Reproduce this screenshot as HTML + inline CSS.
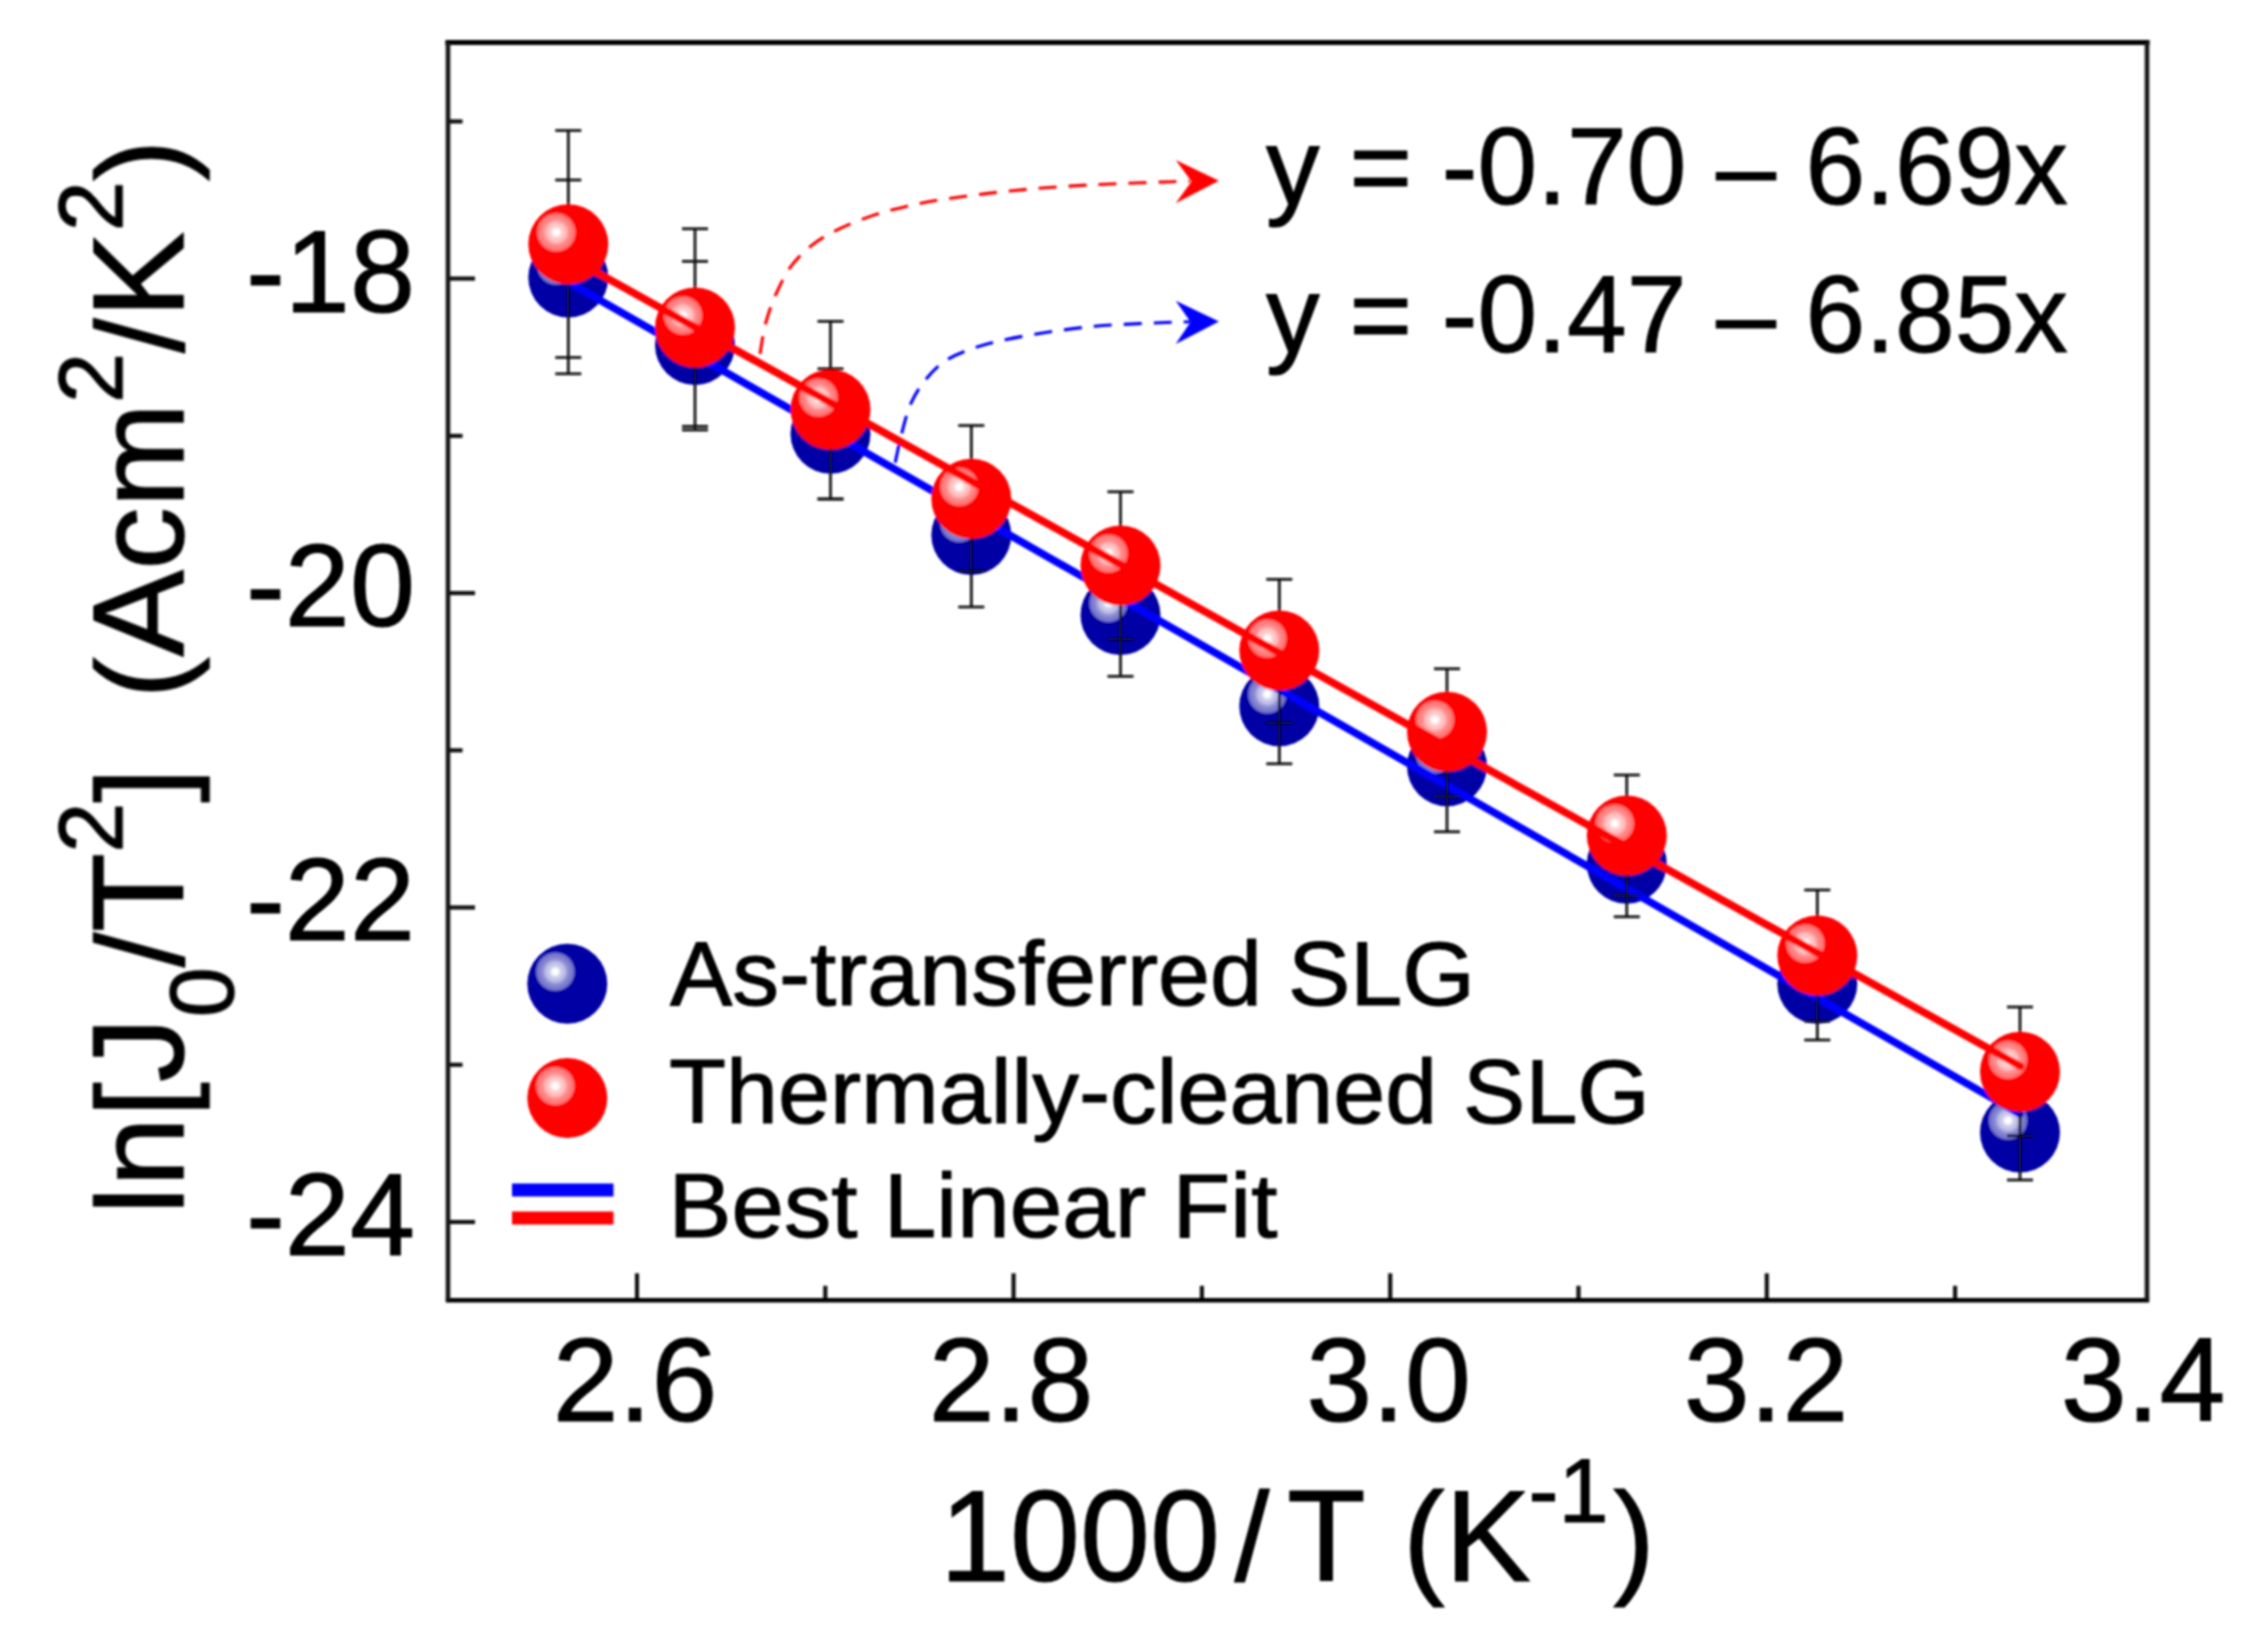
<!DOCTYPE html>
<html lang="en"><head><meta charset="utf-8"><title>ln[J0/T2] vs 1000/T</title>
<style>html,body{margin:0;padding:0;background:#fff;}body{width:2256px;height:1646px;overflow:hidden;}svg{display:block;}text{font-family:'Liberation Sans', Arial, Helvetica, sans-serif;fill:#000;stroke:#000;stroke-width:1.1px;stroke-linejoin:round;}</style>
</head><body>
<svg width="2256" height="1646" viewBox="0 0 2256 1646">
<defs>
<radialGradient id="gr" gradientUnits="userSpaceOnUse" cx="-12" cy="-12" r="20"><stop offset="0" stop-color="#fff"/><stop offset="0.13" stop-color="#fff"/><stop offset="0.28" stop-color="#ffd0d0"/><stop offset="0.5" stop-color="#ffb8b8"/><stop offset="0.62" stop-color="#ff9090"/><stop offset="0.93" stop-color="#ff6c6c"/><stop offset="1" stop-color="#ff0000"/></radialGradient>
<radialGradient id="gb" gradientUnits="userSpaceOnUse" cx="-12" cy="-12" r="20"><stop offset="0" stop-color="#fff"/><stop offset="0.13" stop-color="#fff"/><stop offset="0.28" stop-color="#d0d0ee"/><stop offset="0.5" stop-color="#b8b8e6"/><stop offset="0.62" stop-color="#9090d6"/><stop offset="0.93" stop-color="#6c6cca"/><stop offset="1" stop-color="#0000a4"/></radialGradient>
<filter id="soft" filterUnits="userSpaceOnUse" x="0" y="0" width="2256" height="1646"><feGaussianBlur stdDeviation="0.9"/></filter>
</defs>
<rect width="2256" height="1646" fill="#fff"/>
<g filter="url(#soft)">
<g stroke="#0c0c0c" stroke-width="4.1" fill="none">
<line x1="448.0" y1="121.4" x2="462.5" y2="121.4"/>
<line x1="448.0" y1="278.6" x2="475.0" y2="278.6"/>
<line x1="448.0" y1="435.9" x2="462.5" y2="435.9"/>
<line x1="448.0" y1="593.1" x2="475.0" y2="593.1"/>
<line x1="448.0" y1="750.3" x2="462.5" y2="750.3"/>
<line x1="448.0" y1="907.5" x2="475.0" y2="907.5"/>
<line x1="448.0" y1="1064.8" x2="462.5" y2="1064.8"/>
<line x1="448.0" y1="1222.0" x2="475.0" y2="1222.0"/>
<line x1="637.0" y1="1300.3" x2="637.0" y2="1273.3"/>
<line x1="825.3" y1="1300.3" x2="825.3" y2="1285.8"/>
<line x1="1013.6" y1="1300.3" x2="1013.6" y2="1273.3"/>
<line x1="1201.9" y1="1300.3" x2="1201.9" y2="1285.8"/>
<line x1="1390.2" y1="1300.3" x2="1390.2" y2="1273.3"/>
<line x1="1578.5" y1="1300.3" x2="1578.5" y2="1285.8"/>
<line x1="1766.8" y1="1300.3" x2="1766.8" y2="1273.3"/>
<line x1="1955.1" y1="1300.3" x2="1955.1" y2="1285.8"/>
</g>
<g transform="translate(568.3 277.5)"><circle r="40" fill="#0000a4"/><circle cx="-12" cy="-12" r="20" fill="url(#gb)"/></g>
<g transform="translate(695.0 345.0)"><circle r="40" fill="#0000a4"/><circle cx="-12" cy="-12" r="20" fill="url(#gb)"/></g>
<g transform="translate(830.5 433.8)"><circle r="40" fill="#0000a4"/><circle cx="-12" cy="-12" r="20" fill="url(#gb)"/></g>
<g transform="translate(971.3 535.0)"><circle r="40" fill="#0000a4"/><circle cx="-12" cy="-12" r="20" fill="url(#gb)"/></g>
<g transform="translate(1120.5 615.0)"><circle r="40" fill="#0000a4"/><circle cx="-12" cy="-12" r="20" fill="url(#gb)"/></g>
<g transform="translate(1279.3 706.3)"><circle r="40" fill="#0000a4"/><circle cx="-12" cy="-12" r="20" fill="url(#gb)"/></g>
<g transform="translate(1447.0 766.3)"><circle r="40" fill="#0000a4"/><circle cx="-12" cy="-12" r="20" fill="url(#gb)"/></g>
<g transform="translate(1626.8 863.8)"><circle r="40" fill="#0000a4"/><circle cx="-12" cy="-12" r="20" fill="url(#gb)"/></g>
<g transform="translate(1817.3 983.8)"><circle r="40" fill="#0000a4"/><circle cx="-12" cy="-12" r="20" fill="url(#gb)"/></g>
<g transform="translate(2020.0 1132.5)"><circle r="40" fill="#0000a4"/><circle cx="-12" cy="-12" r="20" fill="url(#gb)"/></g>
<line x1="568.3" y1="282" x2="2020" y2="1114" stroke="#0000ff" stroke-width="7.6" stroke-linecap="round"/>
<g stroke="#0a0a0a" stroke-width="2.7" fill="none">
<path d="M568.3 130.5V357.5M568.3 180.0V373.8"/>
<path d="M555.3 130.5H581.3"/>
<path d="M555.3 357.5H581.3"/>
<path d="M555.3 180.0H581.3"/>
<path d="M555.3 373.8H581.3"/>
<path d="M695.0 228.8V426.3M695.0 261.3V430.0"/>
<path d="M682.0 228.8H708.0"/>
<path d="M682.0 426.3H708.0"/>
<path d="M682.0 261.3H708.0"/>
<path d="M682.0 430.0H708.0"/>
<path d="M830.5 321.3V499.0M830.5 368.8V499.0"/>
<path d="M817.5 321.3H843.5"/>
<path d="M817.5 499.0H843.5"/>
<path d="M817.5 368.8H843.5"/>
<path d="M817.5 499.0H843.5"/>
<path d="M971.3 425.5V571.0M971.3 463.0V607.0"/>
<path d="M958.3 425.5H984.3"/>
<path d="M958.3 571.0H984.3"/>
<path d="M958.3 463.0H984.3"/>
<path d="M958.3 607.0H984.3"/>
<path d="M1120.5 491.8V639.3M1120.5 553.8V676.3"/>
<path d="M1107.5 491.8H1133.5"/>
<path d="M1107.5 639.3H1133.5"/>
<path d="M1107.5 553.8H1133.5"/>
<path d="M1107.5 676.3H1133.5"/>
<path d="M1279.3 579.3V723.0M1279.3 648.8V763.8"/>
<path d="M1266.3 579.3H1292.3"/>
<path d="M1266.3 723.0H1292.3"/>
<path d="M1266.3 648.8H1292.3"/>
<path d="M1266.3 763.8H1292.3"/>
<path d="M1447.0 668.8V796.5M1447.0 700.8V831.8"/>
<path d="M1434.0 668.8H1460.0"/>
<path d="M1434.0 796.5H1460.0"/>
<path d="M1434.0 700.8H1460.0"/>
<path d="M1434.0 831.8H1460.0"/>
<path d="M1626.8 775.0V895.5M1626.8 810.8V916.8"/>
<path d="M1613.8 775.0H1639.8"/>
<path d="M1613.8 895.5H1639.8"/>
<path d="M1613.8 810.8H1639.8"/>
<path d="M1613.8 916.8H1639.8"/>
<path d="M1817.3 890.0V1021.3M1817.3 927.5V1040.0"/>
<path d="M1804.3 890.0H1830.3"/>
<path d="M1804.3 1021.3H1830.3"/>
<path d="M1804.3 927.5H1830.3"/>
<path d="M1804.3 1040.0H1830.3"/>
<path d="M2020.0 1007.0V1135.8M2020.0 1085.0V1180.0"/>
<path d="M2007.0 1007.0H2033.0"/>
<path d="M2007.0 1135.8H2033.0"/>
<path d="M2007.0 1085.0H2033.0"/>
<path d="M2007.0 1180.0H2033.0"/>
</g>
<g transform="translate(568.3 244.3)"><circle r="40" fill="#ff0000"/><circle cx="-12" cy="-12" r="20" fill="url(#gr)"/></g>
<g transform="translate(695.0 327.5)"><circle r="40" fill="#ff0000"/><circle cx="-12" cy="-12" r="20" fill="url(#gr)"/></g>
<g transform="translate(830.5 409.5)"><circle r="40" fill="#ff0000"/><circle cx="-12" cy="-12" r="20" fill="url(#gr)"/></g>
<g transform="translate(971.3 498.8)"><circle r="40" fill="#ff0000"/><circle cx="-12" cy="-12" r="20" fill="url(#gr)"/></g>
<g transform="translate(1120.5 565.5)"><circle r="40" fill="#ff0000"/><circle cx="-12" cy="-12" r="20" fill="url(#gr)"/></g>
<g transform="translate(1279.3 650.5)"><circle r="40" fill="#ff0000"/><circle cx="-12" cy="-12" r="20" fill="url(#gr)"/></g>
<g transform="translate(1447.0 731.8)"><circle r="40" fill="#ff0000"/><circle cx="-12" cy="-12" r="20" fill="url(#gr)"/></g>
<g transform="translate(1626.8 835.5)"><circle r="40" fill="#ff0000"/><circle cx="-12" cy="-12" r="20" fill="url(#gr)"/></g>
<g transform="translate(1817.3 955.5)"><circle r="40" fill="#ff0000"/><circle cx="-12" cy="-12" r="20" fill="url(#gr)"/></g>
<g transform="translate(2020.0 1071.8)"><circle r="40" fill="#ff0000"/><circle cx="-12" cy="-12" r="20" fill="url(#gr)"/></g>
<line x1="568.3" y1="256.5" x2="2020.5" y2="1066.2" stroke="#ff0000" stroke-width="7.6" stroke-linecap="round"/>
<path d="M760.0 354.0C760.9 349.0 762.9 333.8 765.5 324.0C768.1 314.2 771.2 304.8 775.5 295.2C779.8 285.6 784.7 274.9 791.0 266.4C797.3 257.9 805.1 250.5 813.2 244.2C821.3 237.9 829.8 233.5 839.8 228.7C849.8 223.9 861.9 219.1 873.0 215.4C884.1 211.7 895.2 209.1 906.3 206.5C917.4 203.9 926.7 202.0 939.6 199.9C952.5 197.8 969.1 195.7 983.9 193.9C998.7 192.1 1013.4 190.5 1028.2 189.2C1043.0 187.9 1057.8 186.8 1072.6 185.9C1087.4 185.0 1100.3 184.4 1116.9 183.7C1133.5 183.0 1160.2 182.1 1172.4 181.7C1184.6 181.3 1187.1 181.3 1190.0 181.2" fill="none" stroke="#ff0000" stroke-width="3.1" stroke-dasharray="18 12"/>
<path d="M1219 180.8L1175.7 160L1191.5 181.5L1175.7 203.2Z" fill="#ff0000"/>
<path d="M895.2 462.6C896.3 457.6 899.3 442.5 901.9 432.7C904.5 422.9 907.0 412.4 910.7 403.9C914.4 395.4 918.5 388.7 924.0 381.7C929.5 374.7 935.9 367.2 944.0 361.7C952.1 356.1 962.4 352.1 972.8 348.4C983.1 344.7 993.2 342.4 1006.1 339.6C1019.0 336.8 1035.6 334.0 1050.4 331.8C1065.2 329.6 1080.0 327.7 1094.8 326.3C1109.6 324.9 1126.2 324.3 1139.1 323.6C1152.0 322.9 1163.9 322.6 1172.4 322.3C1180.9 322.0 1187.1 321.9 1190.0 321.8" fill="none" stroke="#0000ff" stroke-width="3.1" stroke-dasharray="18 12"/>
<path d="M1219 321.4L1175.7 300.8L1190.5 322L1175.7 344Z" fill="#0000ff"/>
<path d="M448.0 42.5H2147.0" stroke="#000" stroke-width="5.2" fill="none" stroke-linecap="square"/>
<path d="M448.0 1300.3H2147.0" stroke="#000" stroke-width="4.4" fill="none" stroke-linecap="square"/>
<path d="M448.0 42.5V1300.3M2147.0 42.5V1300.3" stroke="#161616" stroke-width="4.6" fill="none"/>
<text x="1266" y="203.5" font-size="109" textLength="802" lengthAdjust="spacingAndGlyphs">y = -0.70 – 6.69x</text>
<text x="1266" y="351.5" font-size="109" textLength="802" lengthAdjust="spacingAndGlyphs">y = -0.47 – 6.85x</text>
<g transform="translate(567.3 983.7)"><circle r="40" fill="#0000a4"/><circle cx="-12" cy="-12" r="20" fill="url(#gb)"/></g>
<g transform="translate(567.3 1098.0)"><circle r="40" fill="#ff0000"/><circle cx="-12" cy="-12" r="20" fill="url(#gr)"/></g>
<rect x="512" y="1183.5" width="101.5" height="13" fill="#0000ff"/>
<rect x="512" y="1211.5" width="101.5" height="13" fill="#ff0000"/>
<text x="670" y="1005" font-size="91" textLength="805" lengthAdjust="spacingAndGlyphs">As-transferred SLG</text>
<text x="669" y="1123" font-size="91" textLength="981" lengthAdjust="spacingAndGlyphs">Thermally-cleaned SLG</text>
<text x="668.5" y="1237" font-size="91" textLength="609" lengthAdjust="spacingAndGlyphs">Best Linear Fit</text>
<text x="415" y="311.9" font-size="117" text-anchor="end">-18</text>
<text x="415" y="626.0" font-size="117" text-anchor="end">-20</text>
<text x="415" y="940.2" font-size="117" text-anchor="end">-22</text>
<text x="415" y="1255.0" font-size="117" text-anchor="end">-24</text>
<text x="635.0" y="1421" font-size="118.5" text-anchor="middle">2.6</text>
<text x="1011.0" y="1421" font-size="118.5" text-anchor="middle">2.8</text>
<text x="1388.5" y="1421" font-size="118.5" text-anchor="middle">3.0</text>
<text x="1766.0" y="1421" font-size="118.5" text-anchor="middle">3.2</text>
<text x="2143.0" y="1421" font-size="118.5" text-anchor="middle">3.4</text>
<text x="940" y="1581" font-size="129" textLength="280" lengthAdjust="spacingAndGlyphs">1000</text>
<text y="1581" font-size="126"><tspan x="1234.5">/</tspan><tspan x="1287" font-size="129">T</tspan><tspan x="1403">(</tspan><tspan x="1445" font-size="129">K</tspan><tspan x="1528.5" font-size="90" dy="-59.5">-1</tspan><tspan dy="59.5" x="1613">)</tspan></text>
<text transform="translate(183.3 1214.5) rotate(-90)" font-size="125" textLength="1075" lengthAdjust="spacingAndGlyphs">ln[<tspan font-size="130">J</tspan><tspan font-size="90" dy="50">0</tspan><tspan dy="-50">/</tspan><tspan font-size="130">T</tspan><tspan font-size="90" dy="-61">2</tspan><tspan dy="61">]&#160;&#160;(</tspan><tspan font-size="130">A</tspan>cm<tspan font-size="90" dy="-61">2</tspan><tspan dy="61">/</tspan><tspan font-size="130">K</tspan><tspan font-size="90" dy="-61">2</tspan><tspan dy="61">)</tspan></text>
</g>
</svg></body></html>
